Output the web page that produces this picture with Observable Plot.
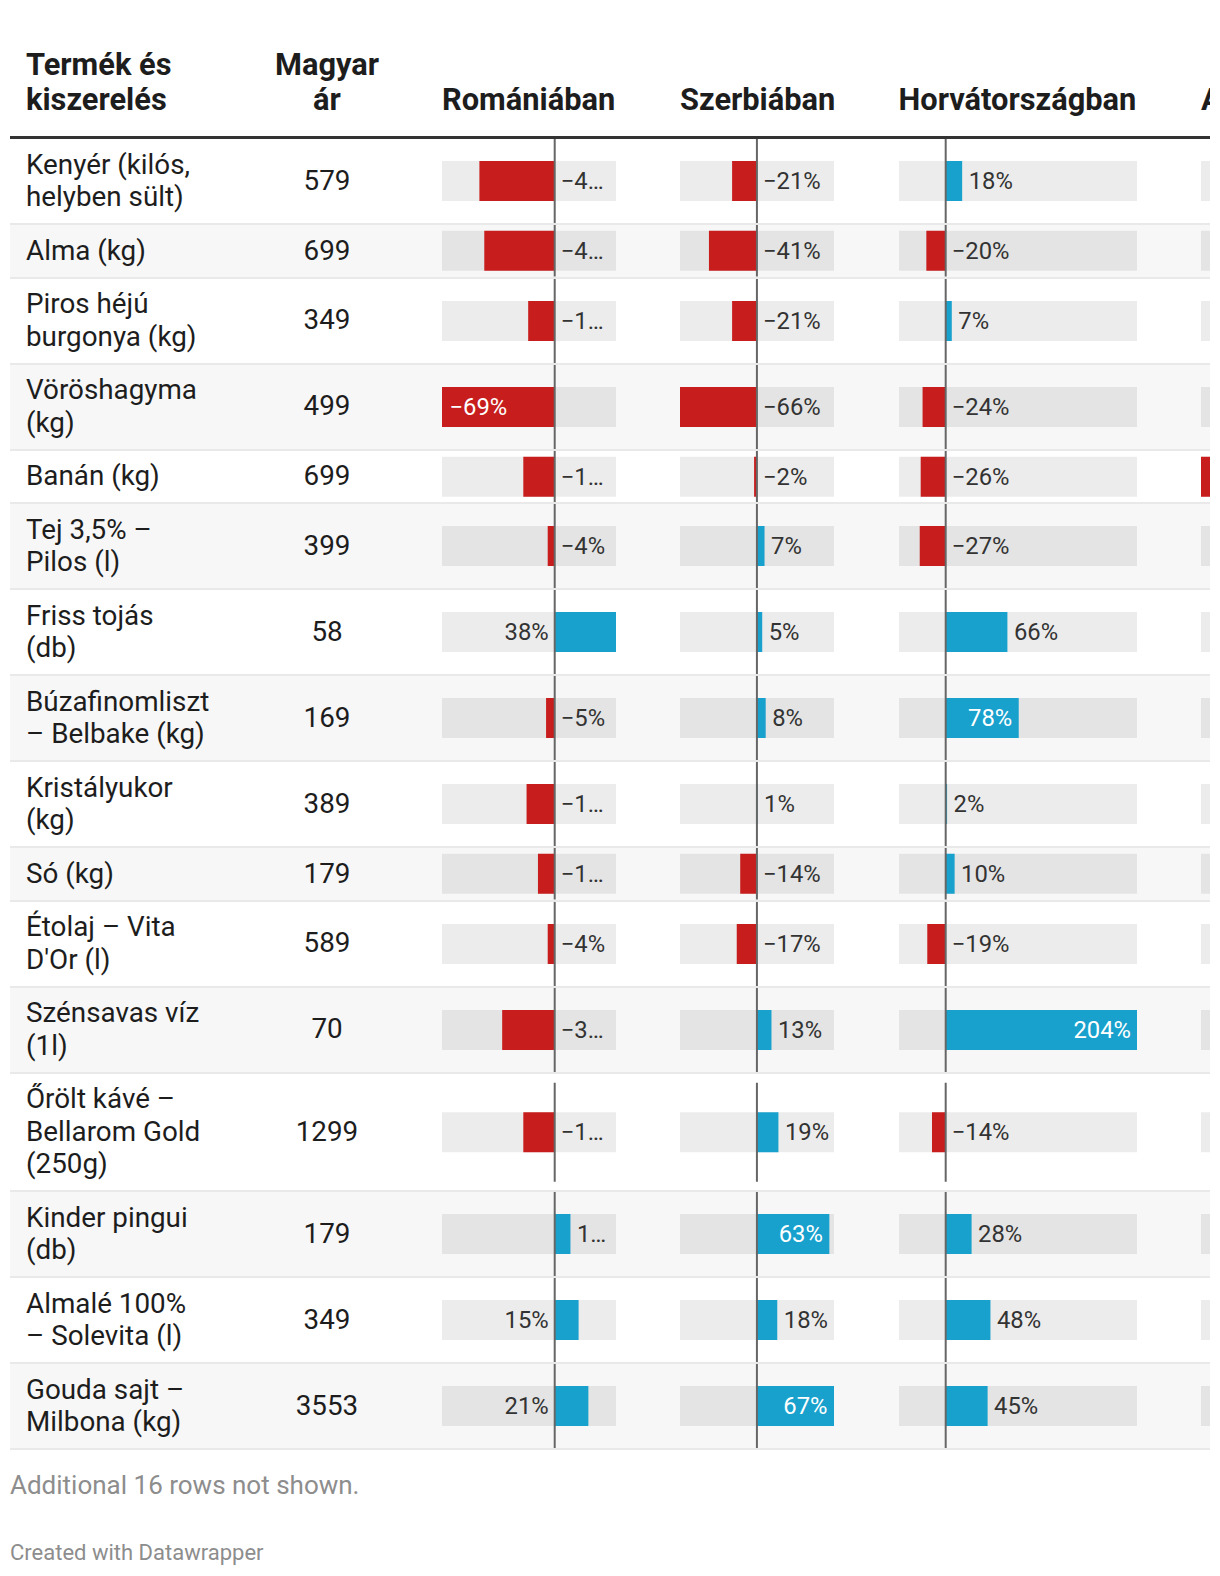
<!DOCTYPE html>
<html lang="hu"><head><meta charset="utf-8">
<script src="https://cdn.jsdelivr.net/npm/d3@7"></script>
<script src="https://cdn.jsdelivr.net/npm/@observablehq/plot@0.6"></script>
<style>
html,body{margin:0;padding:0;background:#fff;}
body{font-family:Roboto,"Noto Sans",sans-serif;color:#1d1d1d;width:1220px;height:1576px;overflow:hidden;position:relative;}
#table{position:absolute;left:10px;top:0;width:1200px;overflow:hidden;}
.hdr{display:flex;align-items:flex-end;height:139px;box-sizing:border-box;border-bottom:3px solid #333;padding-bottom:19px;font-weight:700;font-size:30.8px;line-height:35px;color:#1d1d1d;}
.row{display:flex;align-items:center;box-sizing:border-box;border-bottom:2px solid #e9e9e9;}
.row.alt{background:#f7f7f7;}
.c-name{width:262px;padding-left:16px;box-sizing:border-box;flex:none;white-space:pre;}
.c-price{width:110px;text-align:center;flex:none;white-space:pre;}
.row .c-name,.row .c-price{font-size:27.8px;line-height:32.5px;}
.c-bar{flex:none;box-sizing:border-box;white-space:nowrap;}
.c-bar svg{display:block;}
.foot1{position:absolute;left:10px;top:1470px;font-size:26px;line-height:30px;color:#8d8d8d;}
.foot2{position:absolute;left:10px;top:1540px;font-size:22px;line-height:26px;color:#8d8d8d;}
</style>
</head><body>
<div id="table"></div>
<div class="foot1">Additional 16 rows not shown.</div>
<div class="foot2">Created with Datawrapper</div>
<script>
// ---- data ----
const headerName = "Termék és\nkiszerelés";
const headerPrice = "Magyar\nár";
const countries = ["Romániában", "Szerbiában", "Horvátországban", "Ausztriában"];
const products = [
  "Kenyér (kilós,\nhelyben sült)",
  "Alma (kg)",
  "Piros héjú\nburgonya (kg)",
  "Vöröshagyma\n(kg)",
  "Banán (kg)",
  "Tej 3,5% –\nPilos (l)",
  "Friss tojás\n(db)",
  "Búzafinomliszt\n– Belbake (kg)",
  "Kristályukor\n(kg)",
  "Só (kg)",
  "Étolaj – Vita\nD'Or (l)",
  "Szénsavas víz\n(1l)",
  "Őrölt kávé –\nBellarom Gold\n(250g)",
  "Kinder pingui\n(db)",
  "Almalé 100%\n– Solevita (l)",
  "Gouda sajt –\nMilbona (kg)"
];
const prices = [579, 699, 349, 499, 699, 399, 58, 169, 389, 179, 589, 70, 1299, 179, 349, 3553];
const romania = [-46, -43, -16, -69, -19, -4, 38, -5, -17, -10, -4, -32, -19, 10, 15, 21];
const serbia  = [-21, -41, -21, -66, -2, 7, 5, 8, 1, -14, -17, 13, 19, 63, 18, 67];
const croatia = [18, -20, 7, -24, -26, -27, 66, 78, 2, 10, -19, 204, -14, 28, 48, 45];
// Austria column is cut off at the right edge: only the Banán bar (column minimum) is visible
const austria = [null, null, null, null, -30, null, null, null, null, null, null, null, null, null, null, null];
// column scale extents (include rows not shown)
const romaniaDomain = [-69, 38];
const serbiaDomain = [-66, 67];
const croatiaDomain = [-49, 204];
const austriaDomain = [-30, 60];

// ---- layout ----
const RED = "#c71e1d", BLUE = "#18a1cd";
const LABEL_SIZE = 23.8;
const cols = [
  {values: romania, domain: romaniaDomain, gap: 60, w: 174},
  {values: serbia, domain: serbiaDomain, gap: 64, w: 154},
  {values: croatia, domain: croatiaDomain, gap: 64.5, w: 238.5},
  {values: austria, domain: austriaDomain, gap: 64, w: 174}
];
const ctx = document.createElement("canvas").getContext("2d");
ctx.font = `${LABEL_SIZE}px Roboto`;
const tw = s => ctx.measureText(s).width;
const fmt = v => (v < 0 ? "\u2212" : "") + Math.abs(v) + "%";
function fit(s, avail) {
  if (tw(s) <= avail) return s;
  let t = s;
  while (t.length > 1 && tw(t + "…") > avail) t = t.slice(0, -1);
  return t + "…";
}

function barCell(v, domain, w, h) {
  const sx = d3.scaleLinear(domain, [0, w]);
  const inset = (h - 40) / 2;
  const ri = h > 99 ? (h - 99) / 2 : 0;
  const marks = [
    Plot.barX([domain], {x1: d => d[0], x2: d => d[1], fill: "#000", fillOpacity: 0.075, insetTop: inset, insetBottom: inset})
  ];
  if (v != null) {
    marks.push(Plot.barX([v], {x1: () => 0, x2: d => d, fill: v < 0 ? RED : BLUE, insetTop: inset, insetBottom: inset}));
    const label = fmt(v), lw = tw(label), z = sx(0), xv = sx(v), barW = Math.abs(xv - z);
    let atValue, anchor, dx, fill = "#333", text = label;
    if (barW - lw >= 26) {
      atValue = true; fill = "#fff";
      if (v < 0) { anchor = "start"; dx = 7; } else { anchor = "end"; dx = -7; }
    } else if (v < 0) {
      atValue = false; anchor = "start"; dx = 6; text = fit(label, w - 4 - (z + 6));
    } else if (w - xv >= 40) {
      atValue = true; anchor = "start"; dx = 6; text = fit(label, w - 4 - (xv + 6));
    } else {
      atValue = false; anchor = "end"; dx = -6;
    }
    marks.push(Plot.text([v], {x: atValue ? (d => d) : (() => 0), text: () => text, textAnchor: anchor, dx, fill, fontSize: LABEL_SIZE, fontFamily: "Roboto"}));
  }
  marks.push(Plot.ruleX([0], {stroke: "#666", strokeWidth: 2, insetTop: ri, insetBottom: ri}));
  return Plot.plot({
    width: w, height: h, margin: 0,
    x: {domain, range: [0, w], axis: null},
    style: {background: "transparent", fontFamily: "Roboto", fontSize: LABEL_SIZE + "px"},
    marks
  });
}

const table = document.getElementById("table");
// header
const hdr = document.createElement("div");
hdr.className = "hdr";
hdr.innerHTML = `<div class="c-name"></div><div class="c-price"></div>`;
hdr.children[0].textContent = headerName;
hdr.children[1].textContent = headerPrice;
countries.forEach((c, j) => {
  const d = document.createElement("div");
  d.className = "c-bar";
  d.style.width = (cols[j].gap + cols[j].w) + "px";
  d.style.paddingLeft = cols[j].gap + "px";
  d.textContent = c;
  hdr.appendChild(d);
});
table.appendChild(hdr);

products.forEach((p, i) => {
  const lines = p.split("\n").length;
  const h = 21 + 32.5 * lines;
  const row = document.createElement("div");
  row.className = "row" + (i % 2 ? " alt" : "");
  row.style.height = h + "px";
  const n = document.createElement("div"); n.className = "c-name"; n.textContent = p;
  const pr = document.createElement("div"); pr.className = "c-price"; pr.textContent = String(prices[i]);
  row.appendChild(n); row.appendChild(pr);
  cols.forEach(c => {
    const d = document.createElement("div");
    d.className = "c-bar";
    d.style.width = (c.gap + c.w) + "px";
    d.style.paddingLeft = c.gap + "px";
    d.style.alignSelf = "stretch";
    d.appendChild(barCell(c.values[i], c.domain, c.w, h - 2));
    row.appendChild(d);
  });
  table.appendChild(row);
});
</script>
</body></html>
